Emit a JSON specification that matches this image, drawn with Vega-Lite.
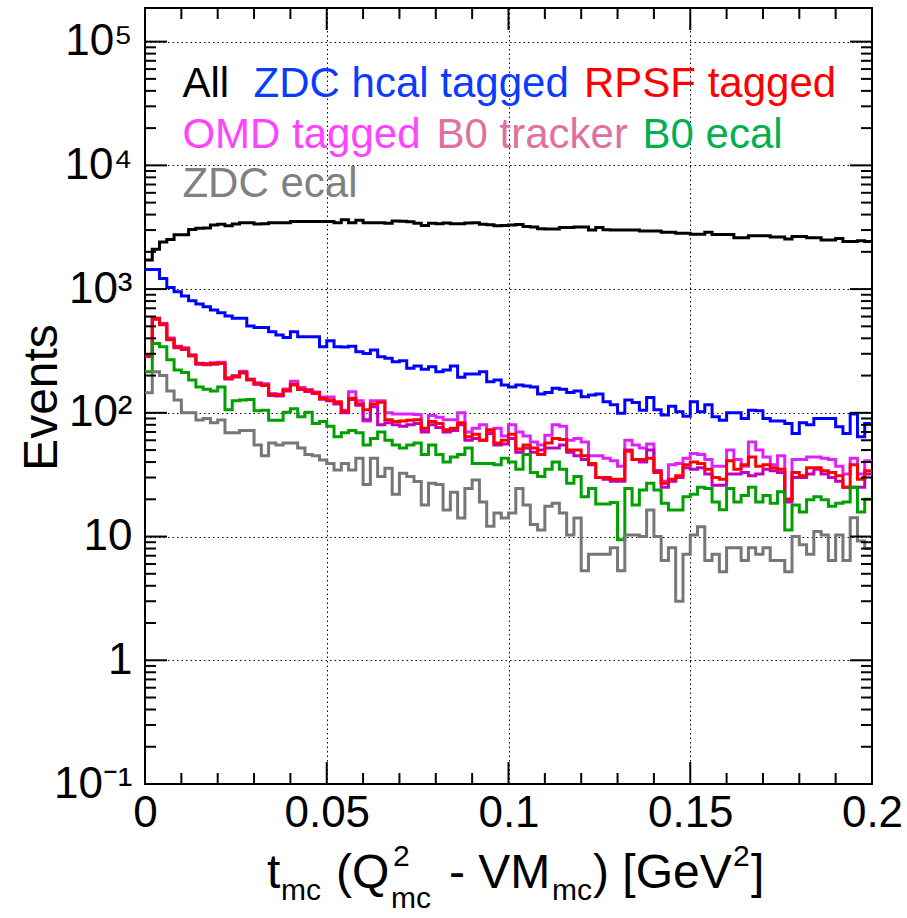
{
"$schema":"https://vega.github.io/schema/vega-lite/v6.json",
"width":727,"height":776,
"autosize":{"type":"none"},
"padding":{"left":145,"top":8,"right":35,"bottom":134},
"background":"white",
"config":{"font":"Liberation Sans","view":{"stroke":"#000","strokeWidth":2}},
"datasets":{
"xmaj":[{"t":0},{"t":0.05},{"t":0.1},{"t":0.15},{"t":0.2}],
"xmin":[{"t":0.01},{"t":0.02},{"t":0.03},{"t":0.04},{"t":0.06},{"t":0.07},{"t":0.08},{"t":0.09},{"t":0.11},{"t":0.12},{"t":0.13},{"t":0.14},{"t":0.16},{"t":0.17},{"t":0.18},{"t":0.19}],
"ymaj":[{"t":0.1},{"t":1},{"t":10},{"t":100},{"t":1000},{"t":10000},{"t":100000}],
"ymin":[{"t":0.2},{"t":0.3},{"t":0.4},{"t":0.5},{"t":0.6},{"t":0.7},{"t":0.8},{"t":0.9},{"t":2},{"t":3},{"t":4},{"t":5},{"t":6},{"t":7},{"t":8},{"t":9},{"t":20},{"t":30},{"t":40},{"t":50},{"t":60},{"t":70},{"t":80},{"t":90},{"t":200},{"t":300},{"t":400},{"t":500},{"t":600},{"t":700},{"t":800},{"t":900},{"t":2000},{"t":3000},{"t":4000},{"t":5000},{"t":6000},{"t":7000},{"t":8000},{"t":9000},{"t":20000},{"t":30000},{"t":40000},{"t":50000},{"t":60000},{"t":70000},{"t":80000},{"t":90000}]
},
"data":{"values":[
{"x":0,"a":1720,"zh":1440,"rp":290,"om":295,"bt":285,"be":215,"ze":145},
{"x":0.002,"a":2100,"zh":1440,"rp":575,"om":585,"bt":570,"be":364,"ze":215},
{"x":0.004,"a":2400,"zh":1220,"rp":520,"om":530,"bt":515,"be":342,"ze":200},
{"x":0.006,"a":2520,"zh":1030,"rp":395,"om":402,"bt":390,"be":268,"ze":150},
{"x":0.008,"a":2750,"zh":950,"rp":340,"om":345,"bt":335,"be":222,"ze":127},
{"x":0.01,"a":2750,"zh":878,"rp":330,"om":335,"bt":325,"be":212,"ze":100},
{"x":0.012,"a":3030,"zh":804,"rp":290,"om":295,"bt":288,"be":184,"ze":100},
{"x":0.014,"a":3100,"zh":757,"rp":250,"om":252,"bt":247,"be":162,"ze":87.5},
{"x":0.016,"a":3120,"zh":720,"rp":248,"om":250,"bt":245,"be":155,"ze":90},
{"x":0.018,"a":3300,"zh":677,"rp":250,"om":254,"bt":247,"be":150,"ze":83},
{"x":0.02,"a":3340,"zh":644,"rp":252,"om":256,"bt":250,"be":162,"ze":87.5},
{"x":0.022,"a":3250,"zh":605,"rp":190,"om":192,"bt":188,"be":106,"ze":69},
{"x":0.024,"a":3360,"zh":580,"rp":197,"om":200,"bt":195,"be":125,"ze":69},
{"x":0.026,"a":3430,"zh":580,"rp":212,"om":217,"bt":210,"be":127,"ze":72},
{"x":0.028,"a":3430,"zh":503,"rp":186,"om":188,"bt":184,"be":128,"ze":72},
{"x":0.03,"a":3360,"zh":490,"rp":172,"om":175,"bt":170,"be":104,"ze":55},
{"x":0.032,"a":3380,"zh":490,"rp":168,"om":172,"bt":166,"be":105,"ze":45},
{"x":0.034,"a":3430,"zh":452,"rp":140,"om":143,"bt":138,"be":87,"ze":57},
{"x":0.036,"a":3440,"zh":425,"rp":139,"om":141,"bt":137,"be":87,"ze":55},
{"x":0.038,"a":3430,"zh":407,"rp":152,"om":156,"bt":150,"be":101,"ze":57},
{"x":0.04,"a":3520,"zh":452,"rp":170,"om":180,"bt":168,"be":108,"ze":57},
{"x":0.042,"a":3520,"zh":412,"rp":156,"om":160,"bt":154,"be":93,"ze":52},
{"x":0.044,"a":3520,"zh":412,"rp":151,"om":154,"bt":149,"be":101,"ze":46},
{"x":0.046,"a":3520,"zh":412,"rp":145,"om":147,"bt":143,"be":82,"ze":45},
{"x":0.048,"a":3520,"zh":342,"rp":131,"om":134,"bt":129,"be":85,"ze":41.6},
{"x":0.05,"a":3520,"zh":383,"rp":127,"om":134,"bt":125,"be":78,"ze":39},
{"x":0.052,"a":3430,"zh":342,"rp":123,"om":120,"bt":118,"be":64,"ze":34.5},
{"x":0.054,"a":3640,"zh":340,"rp":103,"om":105,"bt":100,"be":69,"ze":39},
{"x":0.056,"a":3430,"zh":345,"rp":131,"om":148,"bt":128,"be":72,"ze":34.5},
{"x":0.058,"a":3600,"zh":311,"rp":118,"om":125,"bt":115,"be":69,"ze":43},
{"x":0.06,"a":3440,"zh":302,"rp":106,"om":86,"bt":88,"be":55,"ze":26.3},
{"x":0.062,"a":3440,"zh":322,"rp":118,"om":125,"bt":112,"be":62,"ze":43},
{"x":0.064,"a":3430,"zh":284,"rp":122,"om":125,"bt":80,"be":70,"ze":30.5},
{"x":0.066,"a":3400,"zh":276,"rp":88,"om":100,"bt":83,"be":60,"ze":35.6},
{"x":0.068,"a":3550,"zh":259,"rp":85,"om":98,"bt":80,"be":55,"ze":22},
{"x":0.07,"a":3530,"zh":263,"rp":86,"om":98,"bt":78,"be":52,"ze":32.5},
{"x":0.072,"a":3500,"zh":229,"rp":87,"om":98,"bt":80,"be":55,"ze":30.5},
{"x":0.074,"a":3400,"zh":239,"rp":88,"om":97,"bt":82,"be":57,"ze":27.8},
{"x":0.076,"a":3260,"zh":225,"rp":75,"om":73,"bt":70,"be":46,"ze":18},
{"x":0.078,"a":3400,"zh":236,"rp":85,"om":95,"bt":80,"be":55,"ze":27},
{"x":0.08,"a":3380,"zh":215,"rp":82,"om":92,"bt":76,"be":46,"ze":26.3},
{"x":0.082,"a":3420,"zh":222,"rp":73,"om":88,"bt":70,"be":40,"ze":16.4},
{"x":0.084,"a":3380,"zh":239,"rp":75,"om":88,"bt":72,"be":44,"ze":22.8},
{"x":0.086,"a":3380,"zh":194,"rp":83,"om":100,"bt":80,"be":46,"ze":14.1},
{"x":0.088,"a":3420,"zh":206,"rp":64,"om":70,"bt":60,"be":52,"ze":24.5},
{"x":0.09,"a":3440,"zh":206,"rp":67,"om":75,"bt":62,"be":39,"ze":28.6},
{"x":0.092,"a":3340,"zh":215,"rp":60,"om":80,"bt":60,"be":39,"ze":19},
{"x":0.094,"a":3310,"zh":178,"rp":73,"om":72,"bt":68,"be":39,"ze":12.1},
{"x":0.096,"a":3250,"zh":184,"rp":57,"om":75,"bt":55,"be":38,"ze":15.5},
{"x":0.098,"a":3260,"zh":168,"rp":60,"om":65,"bt":56,"be":43,"ze":14.1},
{"x":0.1,"a":3300,"zh":162,"rp":67,"om":80,"bt":62,"be":40,"ze":15.5},
{"x":0.102,"a":3330,"zh":168,"rp":51,"om":70,"bt":48,"be":35,"ze":24.5},
{"x":0.104,"a":3200,"zh":165,"rp":55,"om":65,"bt":52,"be":46,"ze":18},
{"x":0.106,"a":3180,"zh":162,"rp":52,"om":58,"bt":48,"be":33,"ze":12.5},
{"x":0.108,"a":3080,"zh":142,"rp":46,"om":55,"bt":50,"be":30.5,"ze":11.3},
{"x":0.11,"a":3060,"zh":146,"rp":57,"om":66,"bt":52,"be":35,"ze":17.6},
{"x":0.112,"a":3060,"zh":158,"rp":62,"om":80,"bt":52,"be":40,"ze":18.6},
{"x":0.114,"a":3150,"zh":155,"rp":61,"om":78,"bt":55,"be":35,"ze":15.5},
{"x":0.116,"a":3140,"zh":146,"rp":50,"om":60,"bt":48,"be":27,"ze":10.3},
{"x":0.118,"a":3180,"zh":150,"rp":50,"om":62,"bt":45,"be":30.5,"ze":14.1},
{"x":0.12,"a":3180,"zh":135,"rp":45,"om":58,"bt":42,"be":21,"ze":5.3},
{"x":0.122,"a":3000,"zh":139,"rp":39,"om":45,"bt":38,"be":24.5,"ze":7.2},
{"x":0.124,"a":3140,"zh":142,"rp":30,"om":45,"bt":30,"be":18.3,"ze":7.2},
{"x":0.126,"a":3020,"zh":123,"rp":30,"om":43,"bt":29,"be":18.3,"ze":7.2},
{"x":0.128,"a":3000,"zh":116,"rp":29,"om":41,"bt":28,"be":18.8,"ze":8.1},
{"x":0.13,"a":3000,"zh":99,"rp":29,"om":37,"bt":28,"be":9.4,"ze":5.3},
{"x":0.132,"a":3000,"zh":127,"rp":49,"om":60,"bt":50,"be":24.5,"ze":10.3},
{"x":0.134,"a":3000,"zh":121,"rp":42,"om":55,"bt":42,"be":18,"ze":10.3},
{"x":0.136,"a":2950,"zh":105,"rp":42,"om":52,"bt":40,"be":23.8,"ze":10},
{"x":0.138,"a":2950,"zh":133,"rp":43,"om":56,"bt":50,"be":27,"ze":16.4},
{"x":0.14,"a":2950,"zh":106,"rp":33,"om":34,"bt":34,"be":23.8,"ze":10},
{"x":0.142,"a":2880,"zh":96,"rp":27,"om":28,"bt":25,"be":18.6,"ze":6.4},
{"x":0.144,"a":2880,"zh":113,"rp":29,"om":38,"bt":28,"be":16.4,"ze":8.1},
{"x":0.146,"a":2830,"zh":102,"rp":31,"om":39,"bt":30,"be":16.4,"ze":3.0},
{"x":0.148,"a":2830,"zh":94,"rp":38,"om":43,"bt":36,"be":21,"ze":7.2},
{"x":0.15,"a":2780,"zh":123,"rp":40,"om":47,"bt":35,"be":22,"ze":10.3},
{"x":0.152,"a":2780,"zh":102,"rp":39,"om":46,"bt":36,"be":25,"ze":12},
{"x":0.154,"a":2880,"zh":116,"rp":35,"om":42,"bt":32,"be":24.5,"ze":6.4},
{"x":0.156,"a":2760,"zh":93,"rp":30,"om":37,"bt":26,"be":19,"ze":7.2},
{"x":0.158,"a":2760,"zh":87,"rp":29,"om":37,"bt":26,"be":16.5,"ze":5.2},
{"x":0.16,"a":2760,"zh":100,"rp":41,"om":50,"bt":32,"be":24.5,"ze":8.1},
{"x":0.162,"a":2600,"zh":100,"rp":35,"om":42,"bt":32,"be":19,"ze":8.1},
{"x":0.164,"a":2600,"zh":90,"rp":38,"om":37,"bt":33,"be":21.5,"ze":6.4},
{"x":0.166,"a":2700,"zh":105,"rp":44,"om":58,"bt":31,"be":25,"ze":8.1},
{"x":0.168,"a":2700,"zh":104,"rp":37,"om":50,"bt":32,"be":19,"ze":7.2},
{"x":0.17,"a":2700,"zh":90,"rp":38,"om":44,"bt":35,"be":21.5,"ze":8.1},
{"x":0.172,"a":2640,"zh":86,"rp":36,"om":38,"bt":34,"be":18.6,"ze":6.4},
{"x":0.174,"a":2640,"zh":86,"rp":35,"om":45,"bt":33,"be":23,"ze":6.4},
{"x":0.176,"a":2540,"zh":82,"rp":20,"om":20,"bt":19,"be":11.3,"ze":5.2},
{"x":0.178,"a":2660,"zh":68,"rp":33,"om":42,"bt":30,"be":18,"ze":10},
{"x":0.18,"a":2660,"zh":83,"rp":31,"om":42,"bt":30,"be":15.8,"ze":8.6},
{"x":0.182,"a":2600,"zh":80,"rp":36,"om":44,"bt":32,"be":19.8,"ze":7.2},
{"x":0.184,"a":2600,"zh":90,"rp":36,"om":44,"bt":35,"be":21,"ze":11},
{"x":0.186,"a":2490,"zh":90,"rp":34,"om":43,"bt":32,"be":19.8,"ze":10.3},
{"x":0.188,"a":2490,"zh":90,"rp":33,"om":42,"bt":30,"be":17.6,"ze":6.4},
{"x":0.19,"a":2560,"zh":77,"rp":31,"om":37,"bt":28,"be":18.6,"ze":10.3},
{"x":0.192,"a":2420,"zh":68,"rp":25,"om":32,"bt":25,"be":19,"ze":6.4},
{"x":0.194,"a":2420,"zh":98,"rp":38,"om":43,"bt":25,"be":25,"ze":14.2},
{"x":0.196,"a":2460,"zh":64,"rp":29,"om":32,"bt":25,"be":15.8,"ze":9.2},
{"x":0.198,"a":2420,"zh":82,"rp":34,"om":41,"bt":32,"be":20,"ze":8},
{"x":0.2,"a":2420,"zh":82,"rp":34,"om":41,"bt":32,"be":20,"ze":8}
]},
"layer":[
{
"transform":[{"fold":["a","zh","om","bt","rp","be","ze"],"as":["s","v"]}],
"mark":{"type":"line","interpolate":"step-after","strokeWidth":3,"clip":true},
"encoding":{
"x":{"field":"x","type":"quantitative","scale":{"domain":[0,0.2],"nice":false,"zero":false},
"axis":{"orient":"bottom","title":null,"values":[0,0.05,0.1,0.15,0.2],
"labelExpr":"datum.value==0 ? '0' : format(datum.value,'~g')",
"labelFontSize":44,"labelColor":"#000","labelPadding":7,"labelFlush":false,"labelOverlap":false,"labelBound":false,
"ticks":false,"tickSize":0,"domain":false,
"grid":true,"gridColor":"#000","gridDash":[1.5,3],"gridWidth":1,
"gridOpacity":{"condition":{"test":"datum.value>0.001 && datum.value<0.199","value":1},"value":0}}},
"y":{"field":"v","type":"quantitative","scale":{"type":"log","domain":[0.1,187000],"nice":false},
"axis":{"orient":"left","title":"Events","titleFontSize":48,"titleFontWeight":"normal","titleColor":"#000","titleX":-103,"titleY":389,"titleAngle":-90,"titleAlign":"center","titleBaseline":"middle",
"values":[0.1,1,10,100,1000,10000,100000],
"labelExpr":"datum.value==100000?'10⁵':datum.value==10000?'10⁴':datum.value==1000?'10³':datum.value==100?'10²':datum.value==10?'10':datum.value==1?'1':'10⁻¹'",
"labelFontSize":44,"labelColor":"#000","labelPadding":13,"labelFlush":false,"labelOverlap":false,"labelBound":false,
"ticks":false,"tickSize":0,"domain":false,
"grid":true,"gridColor":"#000","gridDash":[1.5,3],"gridWidth":1,
"gridOpacity":{"condition":{"test":"datum.value>0.11 && datum.value<150000","value":1},"value":0}}},
"color":{"field":"s","type":"nominal",
"scale":{"domain":["a","zh","rp","om","bt","be","ze"],"range":["#000000","#0000ff","#ff0000","#dd22ff","#c000c0","#00a000","#777777"]},
"legend":null}
}
},
{"data":{"name":"xmaj"},"mark":{"type":"rule","strokeWidth":2,"color":"#000"},
"encoding":{"x":{"field":"t","type":"quantitative"},"y":{"datum":0.1,"type":"quantitative","scale":{"type":"log"}},"y2":{"datum":0.1506}}},
{"data":{"name":"xmaj"},"mark":{"type":"rule","strokeWidth":2,"color":"#000"},
"encoding":{"x":{"field":"t","type":"quantitative"},"y":{"datum":187000,"type":"quantitative","scale":{"type":"log"}},"y2":{"datum":124170}}},
{"data":{"name":"xmin"},"mark":{"type":"rule","strokeWidth":2,"color":"#000"},
"encoding":{"x":{"field":"t","type":"quantitative"},"y":{"datum":0.1,"type":"quantitative","scale":{"type":"log"}},"y2":{"datum":0.1227}}},
{"data":{"name":"xmin"},"mark":{"type":"rule","strokeWidth":2,"color":"#000"},
"encoding":{"x":{"field":"t","type":"quantitative"},"y":{"datum":187000,"type":"quantitative","scale":{"type":"log"}},"y2":{"datum":152400}}},
{"data":{"name":"ymaj"},"mark":{"type":"rule","strokeWidth":2,"color":"#000"},
"encoding":{"y":{"field":"t","type":"quantitative","scale":{"type":"log"}},"x":{"datum":0,"type":"quantitative"},"x2":{"datum":0.006052}}},
{"data":{"name":"ymaj"},"mark":{"type":"rule","strokeWidth":2,"color":"#000"},
"encoding":{"y":{"field":"t","type":"quantitative","scale":{"type":"log"}},"x":{"datum":0.2,"type":"quantitative"},"x2":{"datum":0.193948}}},
{"data":{"name":"ymin"},"mark":{"type":"rule","strokeWidth":2,"color":"#000"},
"encoding":{"y":{"field":"t","type":"quantitative","scale":{"type":"log"}},"x":{"datum":0,"type":"quantitative"},"x2":{"datum":0.003026}}},
{"data":{"name":"ymin"},"mark":{"type":"rule","strokeWidth":2,"color":"#000"},
"encoding":{"y":{"field":"t","type":"quantitative","scale":{"type":"log"}},"x":{"datum":0.2,"type":"quantitative"},"x2":{"datum":0.196974}}},
{"data":{"values":[{}]},"mark":{"type":"text","align":"left","baseline":"alphabetic","fontSize":42,"color":"#000000"},
"encoding":{"x":{"datum":0.0103,"type":"quantitative"},"y":{"datum":35550,"type":"quantitative","scale":{"type":"log"}},"text":{"value":"All"}}},
{"data":{"values":[{}]},"mark":{"type":"text","align":"left","baseline":"alphabetic","fontSize":42,"color":"#0a3cff"},
"encoding":{"x":{"datum":0.02988,"type":"quantitative"},"y":{"datum":35550,"type":"quantitative","scale":{"type":"log"}},"text":{"value":"ZDC hcal tagged"}}},
{"data":{"values":[{}]},"mark":{"type":"text","align":"left","baseline":"alphabetic","fontSize":42,"color":"#ff0000"},
"encoding":{"x":{"datum":0.12077,"type":"quantitative"},"y":{"datum":35550,"type":"quantitative","scale":{"type":"log"}},"text":{"value":"RPSF tagged"}}},
{"data":{"values":[{}]},"mark":{"type":"text","align":"left","baseline":"alphabetic","fontSize":42,"color":"#ff44ff"},
"encoding":{"x":{"datum":0.0103,"type":"quantitative"},"y":{"datum":13915,"type":"quantitative","scale":{"type":"log"}},"text":{"value":"OMD tagged"}}},
{"data":{"values":[{}]},"mark":{"type":"text","align":"left","baseline":"alphabetic","fontSize":42,"color":"#e070a0"},
"encoding":{"x":{"datum":0.08019,"type":"quantitative"},"y":{"datum":13915,"type":"quantitative","scale":{"type":"log"}},"text":{"value":"B0 tracker"}}},
{"data":{"values":[{}]},"mark":{"type":"text","align":"left","baseline":"alphabetic","fontSize":42,"color":"#00b050"},
"encoding":{"x":{"datum":0.13686,"type":"quantitative"},"y":{"datum":13915,"type":"quantitative","scale":{"type":"log"}},"text":{"value":"B0 ecal"}}},
{"data":{"values":[{}]},"mark":{"type":"text","align":"left","baseline":"alphabetic","fontSize":42,"color":"#808080"},
"encoding":{"x":{"datum":0.0103,"type":"quantitative"},"y":{"datum":5580,"type":"quantitative","scale":{"type":"log"}},"text":{"value":"ZDC ecal"}}},
{"data":{"values":[{}]},"mark":{"type":"text","align":"left","baseline":"alphabetic","fontSize":48,"color":"#000"},
"encoding":{"x":{"datum":0.03356,"type":"quantitative"},"y":{"datum":0.01443,"type":"quantitative","scale":{"type":"log"}},"text":{"value":"t"}}},
{"data":{"values":[{}]},"mark":{"type":"text","align":"left","baseline":"alphabetic","fontSize":30,"color":"#000"},
"encoding":{"x":{"datum":0.03741,"type":"quantitative"},"y":{"datum":0.01155,"type":"quantitative","scale":{"type":"log"}},"text":{"value":"mc"}}},
{"data":{"values":[{}]},"mark":{"type":"text","align":"left","baseline":"alphabetic","fontSize":48,"color":"#000"},
"encoding":{"x":{"datum":0.05255,"type":"quantitative"},"y":{"datum":0.01443,"type":"quantitative","scale":{"type":"log"}},"text":{"value":"(Q"}}},
{"data":{"values":[{}]},"mark":{"type":"text","align":"left","baseline":"alphabetic","fontSize":30,"color":"#000"},
"encoding":{"x":{"datum":0.06823,"type":"quantitative"},"y":{"datum":0.02175,"type":"quantitative","scale":{"type":"log"}},"text":{"value":"2"}}},
{"data":{"values":[{}]},"mark":{"type":"text","align":"left","baseline":"alphabetic","fontSize":30,"color":"#000"},
"encoding":{"x":{"datum":0.06768,"type":"quantitative"},"y":{"datum":0.00995,"type":"quantitative","scale":{"type":"log"}},"text":{"value":"mc"}}},
{"data":{"values":[{}]},"mark":{"type":"text","align":"left","baseline":"alphabetic","fontSize":48,"color":"#000"},
"encoding":{"x":{"datum":0.08363,"type":"quantitative"},"y":{"datum":0.01443,"type":"quantitative","scale":{"type":"log"}},"text":{"value":"- VM"}}},
{"data":{"values":[{}]},"mark":{"type":"text","align":"left","baseline":"alphabetic","fontSize":30,"color":"#000"},
"encoding":{"x":{"datum":0.11196,"type":"quantitative"},"y":{"datum":0.01155,"type":"quantitative","scale":{"type":"log"}},"text":{"value":"mc"}}},
{"data":{"values":[{}]},"mark":{"type":"text","align":"left","baseline":"alphabetic","fontSize":48,"color":"#000"},
"encoding":{"x":{"datum":0.12325,"type":"quantitative"},"y":{"datum":0.01443,"type":"quantitative","scale":{"type":"log"}},"text":{"value":") [GeV"}}},
{"data":{"values":[{}]},"mark":{"type":"text","align":"left","baseline":"alphabetic","fontSize":30,"color":"#000"},
"encoding":{"x":{"datum":0.16176,"type":"quantitative"},"y":{"datum":0.02175,"type":"quantitative","scale":{"type":"log"}},"text":{"value":"2"}}},
{"data":{"values":[{}]},"mark":{"type":"text","align":"left","baseline":"alphabetic","fontSize":48,"color":"#000"},
"encoding":{"x":{"datum":0.16671,"type":"quantitative"},"y":{"datum":0.01443,"type":"quantitative","scale":{"type":"log"}},"text":{"value":"]"}}}
]
}
